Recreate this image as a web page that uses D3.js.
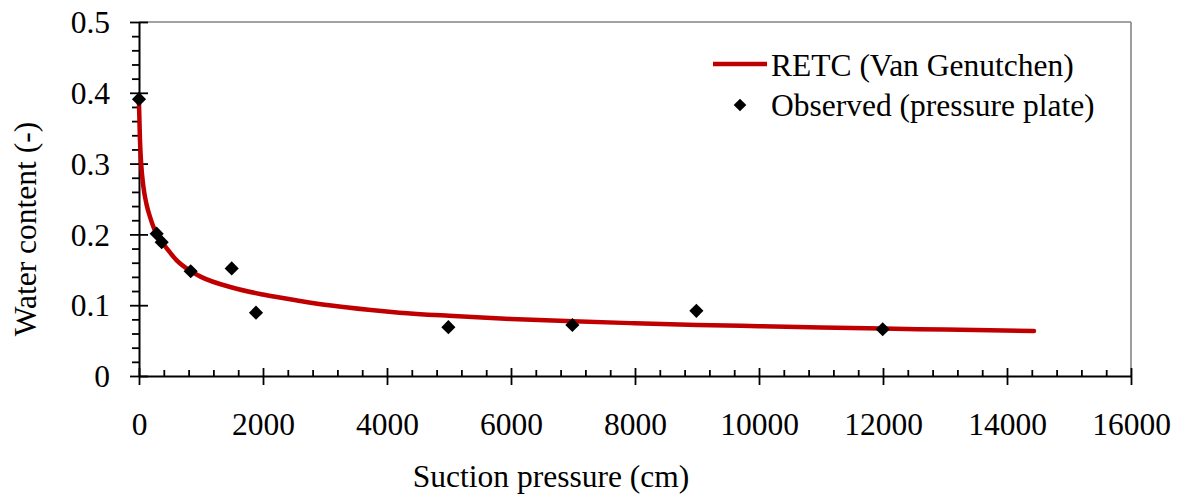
<!DOCTYPE html>
<html><head><meta charset="utf-8">
<script src="https://cdn.jsdelivr.net/npm/d3@7"></script>
<style>
body{margin:0;background:#fff}
svg{display:block}
text{font-family:"Liberation Serif","Times New Roman",serif;fill:#000}
</style>
</head><body>
<svg id="c" width="1187" height="497"></svg>
<script>
// ---- data ----
const obsSuction = [0, 285, 366, 834, 1495, 1887, 4990, 6990, 8990, 11995];
const obsWater   = [0.391, 0.201, 0.189, 0.148, 0.152, 0.0895, 0.069, 0.072, 0.092, 0.066];

const fitSuction = [0, 15, 35, 70, 120, 180, 240, 285, 370, 450, 600, 834, 1000, 1500, 2000, 2600, 3100, 3700, 4200, 5000, 6000, 7000, 8000, 9000, 10000, 11000, 12000, 13000, 14435];
const fitWater   = [0.385, 0.335, 0.300, 0.268, 0.243, 0.224, 0.209, 0.200, 0.189, 0.180, 0.164, 0.148, 0.140, 0.125, 0.115, 0.106, 0.0995, 0.0935, 0.0895, 0.085, 0.0805, 0.0772, 0.0745, 0.0722, 0.0703, 0.0686, 0.0670, 0.0656, 0.0636];

const xTicks = [0, 2000, 4000, 6000, 8000, 10000, 12000, 14000, 16000];
const xTickLabels = ["0", "2000", "4000", "6000", "8000", "10000", "12000", "14000", "16000"];
const yTicks = [0, 0.1, 0.2, 0.3, 0.4, 0.5];
const yTickLabels = ["0", "0.1", "0.2", "0.3", "0.4", "0.5"];

const seriesNames = ["RETC (Van Genutchen)", "Observed (pressure plate)"];
const xTitle = "Suction pressure (cm)";
const yTitle = "Water content (-)";

// ---- layout ----
const FS = 31.5;
const FF = '"Liberation Serif","Times New Roman",serif';
const svg = d3.select("#c");
const x = d3.scaleLinear().domain([0, 16000]).range([139, 1131]);
const y = d3.scaleLinear().domain([0, 0.5]).range([376, 22]);

const xMinor = d3.range(0, 16001, 400).filter(v => v % 2000 !== 0);
const yMinor = d3.range(0, 51, 2).map(v => v / 100).filter(v => Math.round(v * 100) % 10 !== 0);

// plot frame (top/right gray)
svg.append("line").attr("x1", x(0)).attr("x2", x(16000)).attr("y1", y(0.5)).attr("y2", y(0.5))
  .attr("stroke", "#858585").attr("stroke-width", 1.6);
svg.append("line").attr("x1", x(16000)).attr("x2", x(16000)).attr("y1", y(0.5)).attr("y2", y(0))
  .attr("stroke", "#858585").attr("stroke-width", 1.6);

// x minor ticks (inside)
svg.append("g").attr("transform", `translate(0,${y(0)})`)
  .call(d3.axisBottom(x).tickValues(xMinor).tickSize(-6).tickFormat(""))
  .call(g => g.select(".domain").remove())
  .call(g => g.selectAll("line").attr("stroke", "#000").attr("stroke-width", 1.8));

// y minor ticks (outside)
svg.append("g").attr("transform", `translate(${x(0)},0)`)
  .call(d3.axisLeft(y).tickValues(yMinor).tickSize(7).tickFormat(""))
  .call(g => g.select(".domain").remove())
  .call(g => g.selectAll("line").attr("stroke", "#000").attr("stroke-width", 1.8));

// x major axis
const gx = svg.append("g").attr("transform", `translate(0,${y(0)})`)
  .call(d3.axisBottom(x).tickValues(xTicks).tickSizeInner(9).tickSizeOuter(0)
    .tickFormat((d, i) => xTickLabels[i]));
gx.select(".domain").attr("stroke", "#000").attr("stroke-width", 2);
gx.selectAll(".tick line").attr("y1", -8).attr("stroke", "#000").attr("stroke-width", 1.8);
gx.selectAll(".tick text").attr("y", 59).attr("dy", 0)
  .style("font-size", FS + "px").style("font-family", FF);

// y major axis
const gy = svg.append("g").attr("transform", `translate(${x(0)},0)`)
  .call(d3.axisLeft(y).tickValues(yTicks).tickSizeInner(9).tickSizeOuter(0)
    .tickFormat((d, i) => yTickLabels[i]));
gy.select(".domain").attr("stroke", "#000").attr("stroke-width", 2);
gy.selectAll(".tick line").attr("x1", 9).attr("stroke", "#000").attr("stroke-width", 1.8);
gy.selectAll(".tick text").attr("x", -29).attr("dy", "0.34em")
  .style("font-size", FS + "px").style("font-family", FF);

// fitted curve
const fitData = fitSuction.map((h, i) => [h, fitWater[i]]);
svg.append("path").datum(fitData)
  .attr("fill", "none").attr("stroke", "#C00000").attr("stroke-width", 4.5)
  .attr("stroke-linecap", "round").attr("stroke-linejoin", "round")
  .attr("d", d3.line().x(d => x(d[0])).y(d => y(d[1])).curve(d3.curveMonotoneX));

// observed points
const diamond = d3.symbol().type(d3.symbolSquare).size(100);
svg.append("g").selectAll("path").data(obsSuction.map((h, i) => [h, obsWater[i]])).join("path")
  .attr("d", diamond)
  .attr("transform", d => `translate(${x(d[0])},${y(d[1])}) rotate(45)`)
  .attr("fill", "#000");

// axis titles
svg.append("text").attr("transform", "translate(551,487)")
  .attr("text-anchor", "middle").style("font-size", FS + "px").text(xTitle);
svg.append("text").attr("transform", "translate(36,229) rotate(-90)")
  .attr("text-anchor", "middle").style("font-size", FS + "px").text(yTitle);

// legend
svg.append("line").attr("x1", 713).attr("x2", 767).attr("y1", 64).attr("y2", 64)
  .attr("stroke", "#C00000").attr("stroke-width", 4.5);
svg.append("path").attr("d", d3.symbol().type(d3.symbolSquare).size(80))
  .attr("transform", "translate(740,105) rotate(45)").attr("fill", "#000");
svg.append("text").attr("x", 771).attr("y", 76)
  .style("font-size", FS + "px").text(seriesNames[0]);
svg.append("text").attr("x", 771).attr("y", 116)
  .style("font-size", FS + "px").text(seriesNames[1]);
</script>
</body></html>
